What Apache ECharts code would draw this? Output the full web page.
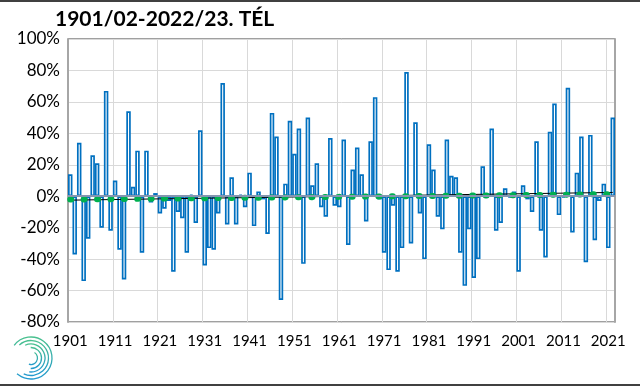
<!DOCTYPE html>
<html><head><meta charset="utf-8">
<script src="https://cdn.jsdelivr.net/npm/echarts@6/dist/echarts.min.js"></script>
<style>html,body{margin:0;padding:0;background:#fff}#c{width:640px;height:386px}</style>
</head><body><div id="c"></div>
<script>
const years = ['1901','1902','1903','1904','1905','1906','1907','1908','1909','1910',
'1911','1912','1913','1914','1915','1916','1917','1918','1919','1920',
'1921','1922','1923','1924','1925','1926','1927','1928','1929','1930',
'1931','1932','1933','1934','1935','1936','1937','1938','1939','1940',
'1941','1942','1943','1944','1945','1946','1947','1948','1949','1950',
'1951','1952','1953','1954','1955','1956','1957','1958','1959','1960',
'1961','1962','1963','1964','1965','1966','1967','1968','1969','1970',
'1971','1972','1973','1974','1975','1976','1977','1978','1979','1980',
'1981','1982','1983','1984','1985','1986','1987','1988','1989','1990',
'1991','1992','1993','1994','1995','1996','1997','1998','1999','2000',
'2001','2002','2003','2004','2005','2006','2007','2008','2009','2010',
'2011','2012','2013','2014','2015','2016','2017','2018','2019','2020',
'2021','2022'];
// winter precipitation anomaly, %
const anomaly = [
 14,-37, 34,-54,-27, 26, 21,-20, 67,-22,
 10,-34,-53, 54,  6, 29,-36, 29, -4,  2,
-11, -8, -3,-48,-10,-14,-36,  1,-17, 42,
-44,-33,-34,-11, 72,-18, 12,-18,  1, -7,
 15,-19,  3, -2,-24, 53, 38,-66,  8, 48,
 27, 43,-43, 50,  7, 21, -7,-13, 37, -6,
 -7, 36,-31, 17, 31, 14,-16, 35, 63, -2,
-36,-47, -6,-48,-33, 79,-30, 47,-11,-40,
 33, 17,-13,-21, 36, 13, 12,-36,-57,-21,
-52,-40, 19, -1, 43,-22,-17,  5, -1,  3,
-48,  7, -2,-10, 35,-22,-39, 41, 59,-12,
 -1, 69,-23, 15, 38,-42, 39,-28, -3,  8,
-33, 50];
// linear trends: [first winter, last winter]
const trendBlack = [-2.5, 2.4];
const trendGreen = [-2.1, 1.3];
const yMin = -80, yMax = 100, yStep = 20;

const ends = t => years.map((y, i) => i === 0 ? t[0] : (i === years.length - 1 ? t[1] : null));
const font = 'Lato, "Liberation Sans", sans-serif';

const chart = echarts.init(document.getElementById('c'), null, {renderer: 'canvas'});
const grad = new echarts.graphic.LinearGradient(0, 0, 0, 1, [
  {offset: 0, color: '#4cc38a'}, {offset: 1, color: '#1e96d4'}]);
const logoArcs = [[21, -2.5, 2.3], [17.5, -2.3, 2.0], [14, -2.0, 1.7], [10.5, -1.6, 1.6], [6.5, -1.0, 1.9]]
  .map(a => ({type: 'arc', shape: {cx: 31, cy: 358, r: a[0], startAngle: a[1], endAngle: a[2]},
    style: {stroke: grad, lineWidth: 1.3, fill: null}, silent: true}));

chart.setOption({
  animation: false,
  backgroundColor: '#fff',
  title: {text: '1901/02-2022/23. TÉL', left: 55, top: 9, padding: 0,
    textStyle: {fontFamily: font, fontWeight: 'bold', fontSize: 21, color: '#000'}},
  grid: {left: 68, right: 25, top: 39, bottom: 64, show: true, borderColor: '#404040', borderWidth: 1},
  xAxis: {type: 'category', data: years, boundaryGap: true,
    axisLine: {show: false}, axisTick: {show: false},
    axisLabel: {interval: 9, fontFamily: font, fontSize: 15, color: '#000', margin: 12},
    splitLine: {show: true, interval: 9, lineStyle: {color: '#D9D9D9', width: 1}}},
  yAxis: [
    {type: 'value', min: yMin, max: yMax, interval: yStep,
     axisLabel: {formatter: '{value}%', fontFamily: font, fontSize: 17, color: '#000', margin: 8},
     axisLine: {show: true, lineStyle: {color: '#A6A6A6', width: 2}}, axisTick: {show: false},
     splitLine: {lineStyle: {color: '#D9D9D9', width: 1}}},
    {type: 'value', min: yMin, max: yMax, interval: yStep, position: 'right',
     axisLabel: {show: false}, axisTick: {show: false}, splitLine: {show: false},
     axisLine: {show: true, lineStyle: {color: '#A6A6A6', width: 2}}}
  ],
  series: [
    {type: 'bar', data: anomaly, barCategoryGap: '0%',
     itemStyle: {color: '#fff', borderColor: '#0070C0', borderWidth: 1.7},
     markLine: {silent: true, symbol: ['none', 'none'], label: {show: false},
       lineStyle: {color: '#8496B0', width: 2, type: 'solid'}, data: [{yAxis: 0}]}},
    {type: 'line', data: ends(trendBlack), connectNulls: true, symbol: 'none', z: 3,
     lineStyle: {color: '#000', width: 1}},
    {type: 'line', data: ends(trendGreen), connectNulls: true, symbol: 'none', z: 4,
     lineStyle: {color: '#00B050', width: 6, type: [1, 12.4], cap: 'round'}}
  ],
  graphic: [
    {type: 'rect', shape: {x: 0, y: 0, width: 640, height: 2}, style: {fill: '#404040'}, silent: true},
    {type: 'rect', shape: {x: 0, y: 384, width: 640, height: 2}, style: {fill: '#404040'}, silent: true}
  ].concat(logoArcs)
});
</script></body></html>
